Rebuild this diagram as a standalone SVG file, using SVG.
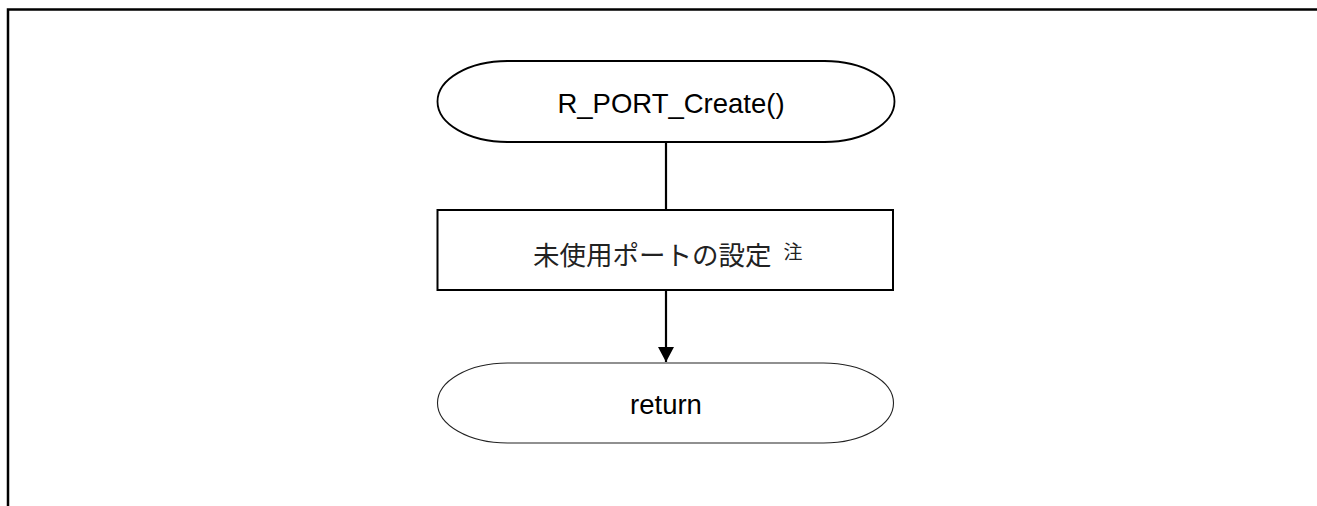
<svg xmlns="http://www.w3.org/2000/svg" width="1317" height="506" viewBox="0 0 1317 506">
<style>
.lbl{font-family:"Liberation Sans",Arial,sans-serif;font-size:27.5px;fill:#000;text-anchor:middle}
.jp{font-family:"Noto Sans CJK JP","Noto Sans CJK SC",sans-serif;font-size:26.5px;fill:#222}
.note{font-size:19px}
.conn{stroke:#000;stroke-width:2.2;fill:none}
</style>
<defs>
<marker id="ah" markerUnits="userSpaceOnUse" markerWidth="16" markerHeight="16" refX="15" refY="8" orient="auto">
<path d="M0,0 L15,8 L0,16 Z" fill="#000"/>
</marker>
</defs>
<g id="frame">
<path d="M8,506 V9.5 H1317" fill="none" stroke="#000" stroke-width="2.5"/>
</g>
<g id="connectors">
<line class="conn" x1="666" y1="142" x2="666" y2="210"/>
<line class="conn" x1="666" y1="290" x2="666" y2="362" marker-end="url(#ah)"/>
</g>
<g id="start">
<rect x="437.5" y="61" width="457" height="81" rx="70" ry="40.5" fill="#fff" stroke="#000" stroke-width="1.8"/>
<text class="lbl" x="671" y="113">R_PORT_Create()</text>
</g>
<g id="process">
<rect x="437.5" y="210" width="455.5" height="80" fill="#fff" stroke="#000" stroke-width="2"/>
<text class="jp" x="533" y="265">未使用ポートの設定<tspan class="note" dx="12" dy="-6">注</tspan></text>
</g>
<g id="end">
<rect x="437.5" y="363" width="456" height="80" rx="70" ry="40" fill="#fff" stroke="#222" stroke-width="1.1"/>
<text class="lbl" x="666" y="414">return</text>
</g>
</svg>
